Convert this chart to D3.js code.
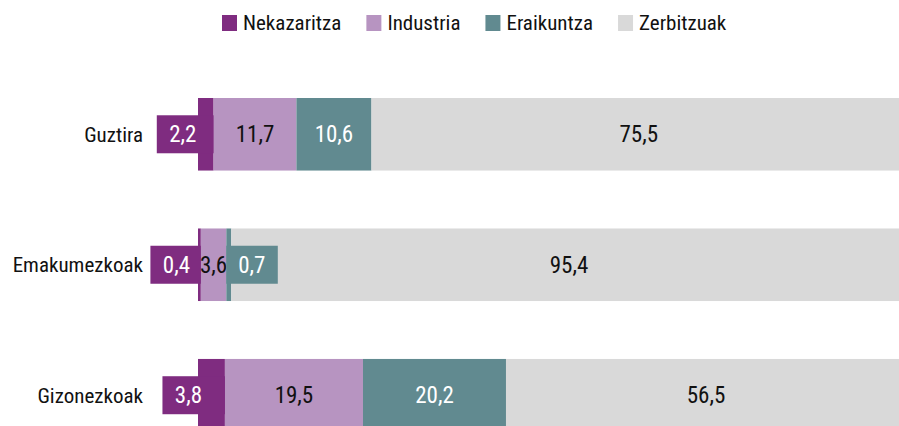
<!DOCTYPE html>
<html>
<head>
<meta charset="utf-8">
<script src="https://cdn.jsdelivr.net/npm/d3@7"></script>
<style>
  html, body { margin: 0; padding: 0; background: #fff; }
  svg { display: block; overflow: hidden; }
  text { font-family: "Roboto", sans-serif; font-stretch: condensed; font-weight: 400; }
</style>
</head>
<body>
<script>
var W = 899;
var H = 426;

// data
var categories = ["Guztira", "Emakumezkoak", "Gizonezkoak"];
var seriesNames = ["Nekazaritza", "Industria", "Eraikuntza", "Zerbitzuak"];
var nekazaritza = [2.2, 0.4, 3.8];
var industria = [11.7, 3.6, 19.5];
var eraikuntza = [10.6, 0.7, 20.2];
var zerbitzuak = [75.5, 95.4, 56.5];

var COLORS = ["#7f2c80", "#b794c1", "#618a90", "#d9d9d9"];
var TEXT_COLORS = ["#fff", "#111", "#fff", "#111"];

// build rows for d3.stack
var rows = categories.map(function(c, i) {
    return {
        cat: c,
        Nekazaritza: nekazaritza[i],
        Industria: industria[i],
        Eraikuntza: eraikuntza[i],
        Zerbitzuak: zerbitzuak[i]
    };
});
var stacked = d3.stack().keys(seriesNames)(rows);

var x = d3.scaleLinear().domain([0, 100]).range([198, 906]);
var y = d3.scaleBand().domain(categories).range([98, 431.5]).paddingInner(0.444).paddingOuter(0);

var fmt = function(v) { return d3.format(".1f")(v).replace(".", ","); };

var svg = d3.select("body").append("svg")
    .attr("width", W)
    .attr("height", H);

// category labels
svg.append("g").selectAll("text")
    .data(categories)
    .enter().append("text")
    .attr("x", 143)
    .attr("y", function(d) { return y(d) + y.bandwidth() / 2; })
    .attr("dy", "0.35em")
    .attr("text-anchor", "end")
    .attr("font-size", 21)
    .attr("fill", "#111")
    .text(function(d) { return d; });

// bars
var series = svg.append("g").selectAll("g")
    .data(stacked)
    .enter().append("g")
    .attr("fill", function(d, i) { return COLORS[i]; });

series.selectAll("rect")
    .data(function(d) { return d; })
    .enter().append("rect")
    .attr("x", function(d) { return x(d[0]); })
    .attr("y", function(d) { return y(d.data.cat); })
    .attr("width", function(d) { return x(d[1]) - x(d[0]); })
    .attr("height", y.bandwidth());

// value labels; tiny segments get a tab sticking out of the bar
var BOX_H = 38;
var OFF = 23;
var HALF = 26;
var labels = svg.append("g");
stacked.forEach(function(s, si) {
    s.forEach(function(d) {
        var v = d[1] - d[0];
        var x0 = x(d[0]), x1 = x(d[1]);
        var cy = y(d.data.cat) + y.bandwidth() / 2;
        var mid = (x0 + x1) / 2;
        var tx = mid;
        if (si === 0) {
            // tab out to the left
            tx = mid - OFF;
            labels.append("rect")
                .attr("x", tx - HALF)
                .attr("y", cy - BOX_H / 2)
                .attr("width", x1 - (tx - HALF))
                .attr("height", BOX_H)
                .attr("fill", COLORS[si]);
        } else if (v < 1) {
            // tab out to the right
            tx = mid + OFF;
            labels.append("rect")
                .attr("x", x0)
                .attr("y", cy - BOX_H / 2)
                .attr("width", tx + HALF - x0)
                .attr("height", BOX_H)
                .attr("fill", COLORS[si]);
        }
        labels.append("text")
            .attr("x", tx)
            .attr("y", cy)
            .attr("dy", "0.35em")
            .attr("text-anchor", "middle")
            .attr("font-size", 23)
            .attr("fill", TEXT_COLORS[si])
            .text(fmt(v));
    });
});

// legend
var legend = svg.append("g").attr("transform", "translate(222,23)");
var lx = 0;
seriesNames.forEach(function(name, i) {
    var item = legend.append("g").attr("transform", "translate(" + lx + ",0)");
    item.append("rect")
        .attr("x", 0)
        .attr("y", -8)
        .attr("width", 15)
        .attr("height", 16)
        .attr("fill", COLORS[i]);
    var t = item.append("text")
        .attr("x", 21)
        .attr("y", 0)
        .attr("dy", "0.35em")
        .attr("font-size", 21)
        .attr("fill", "#111")
        .text(name);
    lx += 21 + t.node().getComputedTextLength() + 25;
});
</script>
</body>
</html>
